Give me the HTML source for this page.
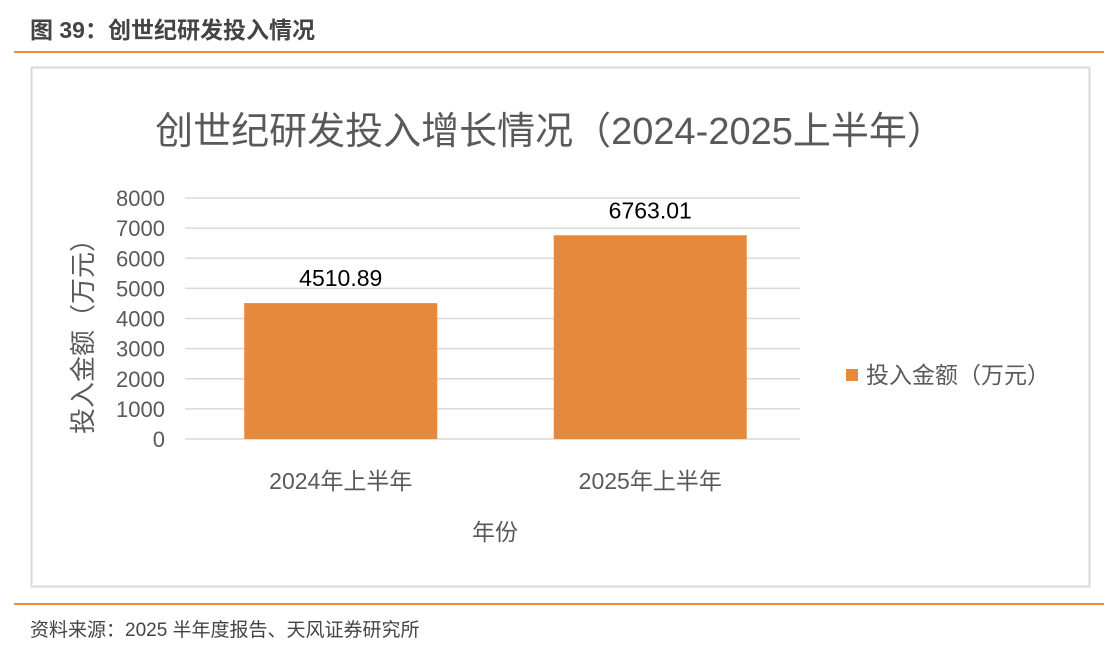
<!DOCTYPE html>
<html><head><meta charset="utf-8"><style>
body{margin:0;width:1114px;height:652px;background:#fff;font-family:"Liberation Sans","Noto Sans CJK SC",sans-serif;overflow:hidden}
</style></head><body>
<svg width="1114" height="652" xmlns="http://www.w3.org/2000/svg" font-family="Liberation Sans, Noto Sans CJK SC, sans-serif">
<text x="30" y="38" font-size="23" font-weight="bold" fill="#444">图 39：创世纪研发投入情况</text>
<rect x="14" y="51" width="1090" height="2" fill="#ee8a3c"/>
<rect x="31.5" y="67.5" width="1058" height="519" fill="#fff" stroke="#d9d9d9" stroke-width="2"/>
<text x="550" y="144" font-size="38" fill="#595959" text-anchor="middle">创世纪研发投入增长情况（2024-2025上半年）</text>
<g id="grid"></g><g id="bars"></g>
<text transform="translate(92,330) rotate(-90)" font-size="26" fill="#595959" text-anchor="middle">投入金额（万元）</text>
<text x="495" y="540" font-size="23" fill="#595959" text-anchor="middle">年份</text>
<rect x="846" y="369" width="12" height="12" fill="#e5893c"/>
<text x="866" y="383" font-size="23" fill="#595959">投入金额（万元）</text>
<rect x="14" y="603" width="1090" height="2" fill="#ee8a3c"/>
<text x="30" y="636" font-size="19" fill="#444">资料来源：2025 半年度报告、天风证券研究所</text>
</svg>
<script>
const categories=["2024年上半年","2025年上半年"];
const values=[4510.89,6763.01];
const valueLabels=["4510.89","6763.01"];
const ticks=[0,1000,2000,3000,4000,5000,6000,7000,8000];
const NS="http://www.w3.org/2000/svg";
const x0=185,x1=804,yb=439,yt=198,ymax=8000;
const y=v=>yb-(v/ymax)*(yb-yt);
const band=(x1-x0)/categories.length;
const grid=document.getElementById('grid'),bars=document.getElementById('bars');
function mk(tag,a,p){const e=document.createElementNS(NS,tag);for(const k in a)e.setAttribute(k,a[k]);p.appendChild(e);return e;}
ticks.forEach(t=>{
 const l=mk('line',{x1:x0,x2:800,y1:y(t),y2:y(t),stroke:'#d9d9d9','stroke-width':1.5},grid);
 
 
 const tx=mk('text',{x:165,y:y(t)+8,'font-size':22,fill:'#595959','text-anchor':'end'},grid);
 tx.textContent=t;
 
 
});
categories.forEach((c,i)=>{
 const cx=x0+band*(i+0.5)+1,w=193;
 const r=mk('rect',{x:cx-w/2,y:y(values[i]),width:w,height:yb-y(values[i]),fill:'#e5893c'},bars);
 
 
 const v=mk('text',{x:cx,y:y(values[i])-17,'font-size':23,fill:'#000','text-anchor':'middle'},bars);
 v.textContent=valueLabels[i];
 
 
 const t=mk('text',{x:cx,y:489,'font-size':23,fill:'#595959','text-anchor':'middle'},bars);
 t.textContent=c;
 
 
});
</script>
</body></html>
